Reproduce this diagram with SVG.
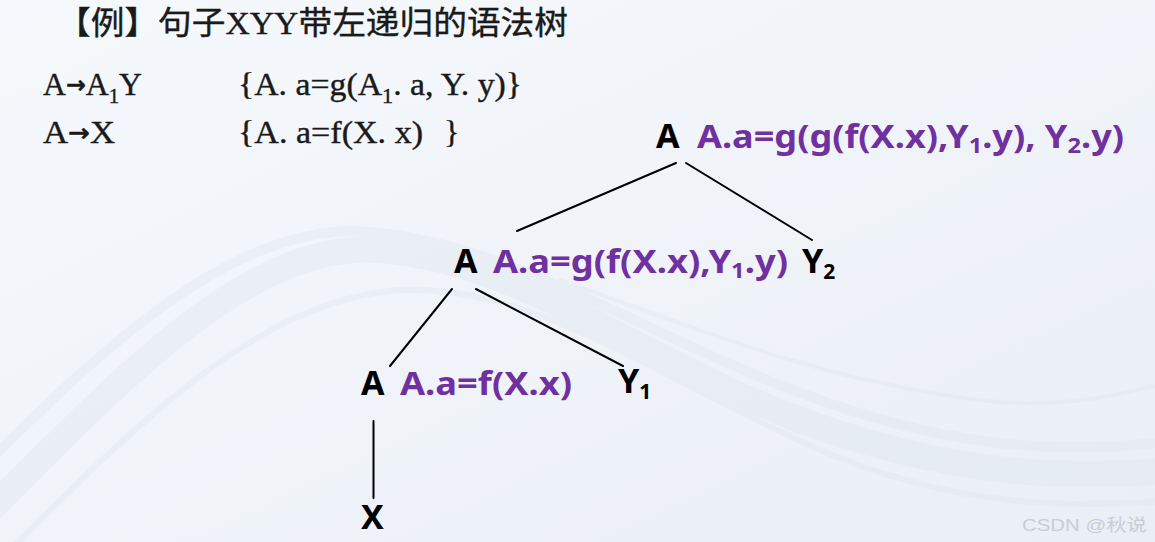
<svg xmlns="http://www.w3.org/2000/svg" width="1155" height="542" viewBox="0 0 1155 542">
  <defs>
    <linearGradient id="bg" x1="0" y1="0" x2="1" y2="1">
      <stop offset="0" stop-color="#f6f9fc"/>
      <stop offset="0.5" stop-color="#f0f4f9"/>
      <stop offset="1" stop-color="#eaeff6"/>
    </linearGradient>
  </defs>
  <style>
    .serif { font-family: "Liberation Serif", "Noto Sans CJK SC", serif; fill: #1a1a1a; stroke: #1a1a1a; stroke-width: 0.4; }
    .arrow { font-family: "DejaVu Sans", sans-serif; font-weight: 700; }
    .node { font-family: "Noto Sans", "Open Sans", sans-serif; font-weight: 700; font-size: 34px; fill: #000; }
    .attr { font-family: "Noto Sans", "Open Sans", sans-serif; font-weight: 700; font-size: 32px; fill: #7030a0; }
    .sub { font-size: 21px; }
    .edge { stroke: #000; stroke-width: 2; fill: none; stroke-linecap: round; }
    .wave { fill: none; stroke: #dde5ee; stroke-linecap: round; }
  </style>

  <rect x="0" y="0" width="1155" height="542" fill="url(#bg)"/>
  <g id="background-waves" opacity="0.35">
    <path class="wave" stroke-width="26" d="M -20 520 C 120 380, 250 240, 380 250 C 520 260, 640 360, 800 420 C 950 475, 1060 480, 1180 470"/>
    <path class="wave" stroke-width="10" d="M -20 470 C 110 340, 240 220, 370 232 C 520 245, 650 340, 820 400 C 960 450, 1070 455, 1180 440"/>
    <path class="wave" stroke-width="6" d="M 0 560 C 140 420, 260 300, 400 290 C 540 285, 660 380, 820 450 C 950 505, 1060 510, 1180 500"/>
    <path class="wave" stroke-width="4" d="M 560 280 C 700 330, 820 380, 980 400 C 1060 410, 1120 395, 1180 380"/>
  </g>

  <g id="title">
    <text class="serif" x="57" y="34" font-size="32" textLength="511" lengthAdjust="spacingAndGlyphs">【例】句子XYY带左递归的语法树</text>
  </g>

  <g id="rules">
    <text class="serif" x="43" y="95" font-size="32" textLength="99" lengthAdjust="spacingAndGlyphs">A<tspan class="arrow" font-size="24" dy="-2">→</tspan><tspan dy="2">A</tspan><tspan font-size="21" dy="8">1</tspan><tspan dy="-8">Y</tspan></text>
    <text class="serif" x="238" y="95" font-size="32" textLength="284" lengthAdjust="spacingAndGlyphs">{A. a=g(A<tspan font-size="21" dy="8">1</tspan><tspan dy="-8">. a, Y. y)}</tspan></text>
    <text class="serif" x="43" y="143" font-size="32" textLength="72" lengthAdjust="spacingAndGlyphs">A<tspan class="arrow" font-size="24" dy="-2">→</tspan><tspan dy="2">X</tspan></text>
    <text class="serif" x="238" y="143" font-size="32" textLength="185" lengthAdjust="spacingAndGlyphs">{A. a=f(X. x)</text>
    <text class="serif" x="444" y="143" font-size="32">}</text>
  </g>

  <g id="connectors">
    <line class="edge" x1="676" y1="163" x2="517" y2="231"/>
    <line class="edge" x1="686" y1="163" x2="812" y2="240"/>
    <line class="edge" x1="452" y1="289" x2="390" y2="366"/>
    <line class="edge" x1="476" y1="289" x2="623" y2="366"/>
    <line class="edge" x1="373.5" y1="421" x2="373.5" y2="498"/>
  </g>

  <g id="node-root">
    <text class="node" x="656" y="148">A</text>
    <text class="attr" x="697" y="148" textLength="427" lengthAdjust="spacingAndGlyphs">A.a=g(g(f(X.x),Y<tspan class="sub" dy="5">1</tspan><tspan dy="-5">.y), Y</tspan><tspan class="sub" dy="5">2</tspan><tspan dy="-5">.y)</tspan></text>
  </g>

  <g id="node-a2">
    <text class="node" x="454" y="273">A</text>
    <text class="attr" x="493" y="273" textLength="295" lengthAdjust="spacingAndGlyphs">A.a=g(f(X.x),Y<tspan class="sub" dy="5">1</tspan><tspan dy="-5">.y)</tspan></text>
  </g>

  <g id="node-y2">
    <text class="node" x="802" y="273">Y<tspan class="sub" dy="6">2</tspan></text>
  </g>

  <g id="node-a3">
    <text class="node" x="361" y="395">A</text>
    <text class="attr" x="400" y="395" textLength="172" lengthAdjust="spacingAndGlyphs">A.a=f(X.x)</text>
  </g>

  <g id="node-y1">
    <text class="node" x="618" y="393">Y<tspan class="sub" dy="6">1</tspan></text>
  </g>

  <g id="node-x">
    <text class="node" x="361" y="529">X</text>
  </g>

  <g id="watermark">
    <text x="1022" y="531" font-family="'Liberation Sans', 'Noto Sans CJK SC', sans-serif" font-size="17" fill="#c8cdd3" textLength="125" lengthAdjust="spacingAndGlyphs">CSDN @秋说</text>
  </g>
</svg>
